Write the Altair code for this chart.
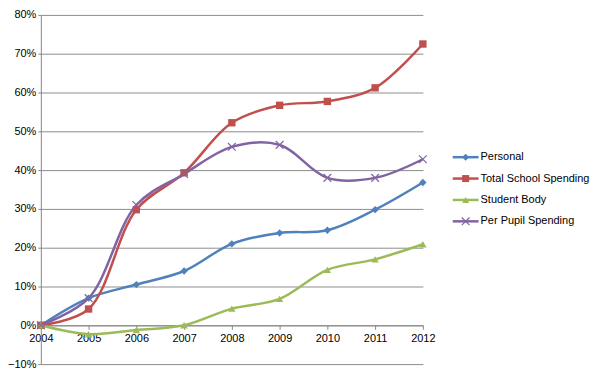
import altair as alt
import pandas as pd

years = [2004, 2005, 2006, 2007, 2008, 2009, 2010, 2011, 2012]
series_names = ["Personal", "Total School Spending", "Student Body", "Per Pupil Spending"]
personal = [0.0, 0.070, 0.105, 0.140, 0.210, 0.238, 0.245, 0.298, 0.368]
total_school = [0.0, 0.042, 0.298, 0.393, 0.522, 0.567, 0.577, 0.612, 0.725]
student_body = [0.0, -0.023, -0.012, 0.0, 0.043, 0.068, 0.143, 0.170, 0.209]
per_pupil = [0.0, 0.070, 0.310, 0.390, 0.460, 0.465, 0.380, 0.380, 0.428]
y_ticks = [-0.1, 0, 0.1, 0.2, 0.3, 0.4, 0.5, 0.6, 0.7, 0.8]
colors = ["#4F81BD", "#C0504D", "#9BBB59", "#8064A2"]
shapes = ["diamond", "square", "triangle-up", "M-1,-1L1,1M-1,1L1,-1"]

rows = []
for name, vals in zip(series_names, [personal, total_school, student_body, per_pupil]):
    for y, v in zip(years, vals):
        rows.append({"year": y, "value": v, "series": name})
df = pd.DataFrame(rows)

FONT = "Liberation Sans"
W, H = 384, 351
TOP = 6

x_axis = alt.Axis(values=years, format="d", title=None, grid=False,
                  offset=-H * 0.1 / 0.9, domainColor="#868686", tickColor="#868686",
                  tickSize=4, labelPadding=3, labelOverlap=False)
y_axis = alt.Axis(values=y_ticks, format=".0%",
                  title=None, grid=True, gridColor="#8c8c8c", gridWidth=1,
                  domainColor="#868686", tickColor="#868686", tickSize=3,
                  labelPadding=2, labelOverlap=False)
x_scale = alt.Scale(domain=[2004, 2012], nice=False, zero=False)
y_scale = alt.Scale(domain=[-0.1, 0.8], nice=False, zero=False)
color_enc = alt.Color("series:N", scale=alt.Scale(domain=series_names, range=colors), legend=None)

base = alt.Chart(df)
lines = base.mark_line(interpolate="catmull-rom", strokeWidth=2.5).encode(
    x=alt.X("year:Q", scale=x_scale, axis=x_axis),
    y=alt.Y("value:Q", scale=y_scale, axis=y_axis),
    color=color_enc, detail="series:N")

filled = base.transform_filter(alt.datum.series != "Per Pupil Spending").mark_point(
    filled=True, opacity=1, size=55).encode(
    x=alt.X("year:Q", scale=x_scale, axis=x_axis),
    y=alt.Y("value:Q", scale=y_scale, axis=y_axis),
    color=color_enc,
    shape=alt.Shape("series:N", scale=alt.Scale(domain=series_names, range=shapes), legend=None))

crosses = base.transform_filter(alt.datum.series == "Per Pupil Spending").mark_point(
    shape="M-1,-1L1,1M-1,1L1,-1", filled=False, opacity=1, size=60, strokeWidth=1.2).encode(
    x=alt.X("year:Q", scale=x_scale, axis=x_axis),
    y=alt.Y("value:Q", scale=y_scale, axis=y_axis),
    color=color_enc)

layers = [lines, filled, crosses]

leg_y0 = 157 - 8 - TOP
leg_step = 21.5
for i, (name, col, shp) in enumerate(zip(series_names, colors, shapes)):
    d = alt.Data(values=[{"name": name}])
    yy = leg_y0 + i * leg_step
    layers.append(alt.Chart(d).mark_rule(color=col, strokeWidth=2.5).encode(
        x=alt.value(414), x2=alt.value(440), y=alt.value(yy)))
    if i == 3:
        layers.append(alt.Chart(d).mark_point(shape=shp, filled=False, color=col, size=60,
                                              strokeWidth=1.2, opacity=1).encode(
            x=alt.value(427), y=alt.value(yy)))
    else:
        layers.append(alt.Chart(d).mark_point(shape=shp, filled=True, color=col, size=50,
                                              opacity=1).encode(
            x=alt.value(427), y=alt.value(yy)))
    layers.append(alt.Chart(d).mark_text(align="left", baseline="middle", font=FONT,
                                         fontSize=11, color="#000000").encode(
        x=alt.value(442), y=alt.value(yy), text="name:N"))

chart = alt.layer(*layers).properties(
    width=W, height=H,
    autosize=alt.AutoSizeParams(type="none"),
    padding={"left": 33, "top": TOP, "right": 170, "bottom": 9},
    background="white",
).configure_view(stroke=None).configure_axis(
    labelOverlap=False, labelFlush=False, labelFont=FONT, labelFontSize=11,
    labelColor="#000000", labelBound=False
)

chart.save("out.html", embed_options={"renderer": "svg", "actions": False})
